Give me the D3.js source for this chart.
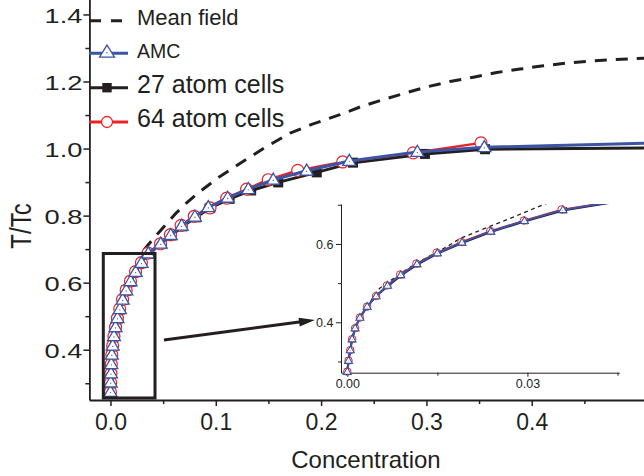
<!DOCTYPE html>
<html><head><meta charset="utf-8">
<script src="https://cdn.jsdelivr.net/npm/d3@7"></script>
<style>
html,body{margin:0;padding:0;background:#fff;}
svg{display:block;}
text{font-family:"Liberation Sans",Arial,Helvetica,sans-serif;fill:#231f20;}
</style></head><body>
<svg id="chart" width="644" height="476"></svg>
<script>
// ---- data: concentration vs reduced temperature T/Tc ----
const amcConc = [0.0000,0.0002,0.0005,0.0008,0.0013,0.0021,0.0033,0.0048,0.0067,0.0089,0.0116,0.0150,0.0191,0.0239,0.0295,0.0359,
  0.0477,0.0572,0.0676,0.0802,0.0929,0.1113,0.1309,0.1546,0.1863,0.2268,0.2914,0.3550,0.5200];
const amcT = [0.274,0.302,0.329,0.357,0.385,0.412,0.440,0.467,0.494,0.521,0.549,0.577,0.604,0.632,0.659,0.687,
  0.716,0.742,0.770,0.797,0.825,0.853,0.879,0.907,0.934,0.963,0.990,1.004,1.017];

const cell27Conc = [0.0000,0.0002,0.0005,0.0008,0.0013,0.0021,0.0033,0.0048,0.0068,0.0090,0.0117,0.0151,0.0192,0.0240,0.0296,0.0361,
  0.0482,0.0580,0.0684,0.0812,0.0942,0.1131,0.1336,0.1593,0.1959,0.2303,0.2986,0.3557,0.5200];
const cell27T = [0.274,0.302,0.329,0.357,0.385,0.412,0.440,0.467,0.493,0.520,0.548,0.576,0.603,0.631,0.658,0.686,
  0.716,0.741,0.768,0.795,0.822,0.850,0.875,0.899,0.929,0.958,0.984,0.998,1.002];

const cell64Conc = [0.0000,0.0002,0.0005,0.0008,0.0013,0.0021,0.0033,0.0048,0.0066,0.0088,0.0115,0.0149,0.0190,0.0238,0.0294,0.0357,
  0.0475,0.0569,0.0671,0.0796,0.0945,0.1104,0.1293,0.1498,0.1778,0.2205,0.2875,0.3518];
const cell64T = [0.274,0.302,0.329,0.357,0.385,0.412,0.440,0.467,0.494,0.522,0.550,0.578,0.605,0.633,0.660,0.688,
  0.716,0.743,0.771,0.798,0.823,0.852,0.879,0.907,0.935,0.960,0.987,1.017];

const meanConc = [0.0000,0.0002,0.0008,0.0021,0.0034,0.0054,0.0093,0.0116,0.0166,0.0188,0.0215,0.0271,0.0329,0.0451,0.0628,0.0723,
  0.0850,0.1040,0.1262,0.1483,0.1705,0.1911,0.2179,0.2386,0.2591,0.2815,0.3018,0.3224,0.3446,0.3667,0.3889,0.4110,0.4332,0.4554,0.4760,0.4965,0.5200];
const meanT = [0.274,0.303,0.358,0.414,0.443,0.487,0.529,0.552,0.593,0.614,0.631,0.665,0.702,0.747,0.809,0.838,
  0.872,0.917,0.962,1.006,1.046,1.072,1.101,1.126,1.146,1.167,1.185,1.200,1.213,1.227,1.237,1.247,1.255,1.261,1.265,1.268,1.271];

// ---- ticks and labels ----
const xTicksMain = [0, 0.1, 0.2, 0.3, 0.4];
const xMinorMain = [0.05, 0.15, 0.25, 0.35, 0.45];
const yTicksMain = [0.4, 0.6, 0.8, 1.0, 1.2, 1.4];
const yMinorMain = [0.3, 0.5, 0.7, 0.9, 1.1, 1.3];
const xTicksInset = [0, 0.03];
const xMinorInset = [0.015, 0.045];
const yTicksInset = [0.4, 0.6];
const yMinorInset = [0.3, 0.5, 0.7];
const legendLabels = ["Mean field", "AMC", "27 atom cells", "64 atom cells"];
const xTitle = "Concentration";
const yTitle = "T/Tc";

// zoomed window (data units) and the arrow pointing to the inset
const zoomBox = {c0: -0.0068, c1: 0.0423, t0: 0.256, t1: 0.687};
const arrowFrom = {c: 0.0508, t: 0.429};
const arrowTo = {c: 0.1942, t: 0.4886};

// ---- styles ----
const INK = "#231f20", BLUE = "#3b54a4", RED = "#ec2227";

const svg = d3.select("#chart");

// main scales
const x = d3.scaleLinear().domain([-0.02, 0.52]).range([89.4, 658.1]);
const y = d3.scaleLinear().domain([0.25, 1.45]).range([400, -2.3]);
// inset scales
const xi = d3.scaleLinear().domain([-0.00105, 0.0453]).range([341, 619.3]);
const yi = d3.scaleLinear().domain([0.2713, 0.702]).range([372.7, 204]);

const triPath = (w, h) => `M0,${-h * 0.6}L${w / 2},${h * 0.4}L${-w / 2},${h * 0.4}Z`;

function drawSeries(g, sx, sy, conc, temp, o) {
  const pts = conc.map((c, i) => [c, temp[i]]);
  g.append("path")
    .attr("d", d3.line().x(d => sx(d[0])).y(d => sy(d[1]))(pts))
    .attr("fill", "none").attr("stroke", o.color).attr("stroke-width", o.lw)
    .attr("stroke-linejoin", "round")
    .attr("stroke-dasharray", o.dash || null)
    .attr("clip-path", o.clip || null);
  if (!o.marker) return;
  const shown = pts.filter(o.keep || (() => true));
  const m = g.selectAll(null).data(shown).enter().append("g")
    .attr("transform", d => `translate(${sx(d[0])},${sy(d[1])})`);
  if (o.marker === "tri") {
    m.append("path").attr("d", triPath(o.size, o.size * 0.85))
      .attr("fill", "#fff").attr("stroke", o.color).attr("stroke-width", o.mlw);
    m.append("circle").attr("cx", 0).attr("cy", o.size * 0.05).attr("r", o.size * 0.05)
      .attr("fill", o.color);
  } else if (o.marker === "circle") {
    m.append("circle").attr("r", o.size / 2).attr("fill", "#fff")
      .attr("stroke", o.color).attr("stroke-width", o.mlw);
  } else if (o.marker === "square") {
    m.append("rect").attr("x", -o.size / 2).attr("y", -o.size / 2)
      .attr("width", o.size).attr("height", o.size).attr("fill", o.color);
  }
}

// ---------- main axes ----------
const gx = svg.append("g").attr("transform", `translate(0,${y(0.25)})`);
gx.call(d3.axisBottom(x).tickValues(xTicksMain).tickSize(6).tickSizeOuter(0).tickFormat(d3.format(".1f")));
gx.append("g").call(d3.axisBottom(x).tickValues(xMinorMain).tickSize(4).tickFormat(""))
  .select(".domain").remove();
gx.selectAll(".domain").attr("stroke", INK).attr("stroke-width", 1.8);
gx.selectAll(".tick line").attr("stroke", INK).attr("stroke-width", 1.5);
gx.selectAll(".tick text").attr("y", 30).attr("dy", 0).attr("font-size", 23)
  .attr("fill", INK).style("font-family", '"Liberation Sans",Arial,sans-serif');

const gy = svg.append("g").attr("transform", `translate(${x(-0.02)},0)`);
gy.call(d3.axisLeft(y).tickValues(yTicksMain).tickSize(6).tickSizeOuter(0).tickFormat(d3.format(".1f")));
gy.append("g").call(d3.axisLeft(y).tickValues(yMinorMain).tickSize(4).tickFormat(""))
  .select(".domain").remove();
gy.selectAll(".domain").attr("stroke", INK).attr("stroke-width", 1.8);
gy.selectAll(".tick line").attr("stroke", INK).attr("stroke-width", 1.5);
gy.selectAll(".tick text").attr("x", -7 / 1.3).attr("dy", "0.36em").attr("font-size", 21)
  .attr("transform", "scale(1.3,1)")
  .attr("fill", INK).style("font-family", '"Liberation Sans",Arial,sans-serif');

svg.append("text").attr("x", 366).attr("y", 468).attr("text-anchor", "middle")
  .attr("font-size", 24).text(xTitle);
svg.append("text").attr("text-anchor", "middle").attr("font-size", 24)
  .attr("transform", "translate(31,226) rotate(-90) scale(1,1.22)").text(yTitle);

// ---------- main curves ----------
const gm = svg.append("g");
drawSeries(gm, x, y, meanConc, meanT, {color: INK, lw: 3, dash: "12,9"});
drawSeries(gm, x, y, cell27Conc, cell27T, {color: INK, lw: 3, marker: "square", size: 10, keep: d => d[0] < 0.5});
drawSeries(gm, x, y, cell64Conc, cell64T, {color: RED, lw: 2.5, marker: "circle", size: 12, mlw: 1.2});
drawSeries(gm, x, y, amcConc, amcT, {color: BLUE, lw: 3, marker: "tri", size: 13, mlw: 1.3,
  keep: d => d[0] < 0.5});

// zoom box and arrow
svg.append("rect")
  .attr("x", x(zoomBox.c0)).attr("y", y(zoomBox.t1))
  .attr("width", x(zoomBox.c1) - x(zoomBox.c0)).attr("height", y(zoomBox.t0) - y(zoomBox.t1))
  .attr("fill", "none").attr("stroke", INK).attr("stroke-width", 3);

(function arrow() {
  const x0 = x(arrowFrom.c), y0 = y(arrowFrom.t), x1 = x(arrowTo.c), y1 = y(arrowTo.t);
  const a = Math.atan2(y1 - y0, x1 - x0), L = 16, Wd = 4.5;
  const bx = x1 - L * Math.cos(a), by = y1 - L * Math.sin(a);
  svg.append("line").attr("x1", x0).attr("y1", y0).attr("x2", bx + 2 * Math.cos(a)).attr("y2", by + 2 * Math.sin(a))
    .attr("stroke", INK).attr("stroke-width", 3);
  const px = -Math.sin(a) * Wd, py = Math.cos(a) * Wd;
  svg.append("path").attr("d", `M${x1},${y1}L${bx + px},${by + py}L${bx},${by}L${bx - px},${by - py}Z`)
    .attr("fill", INK);
})();

// ---------- inset ----------
const defs = svg.append("defs");
defs.append("clipPath").attr("id", "insetClip").append("rect")
  .attr("x", 336).attr("y", yi(0.702)).attr("width", xi(0.0453) - 336).attr("height", 380 - yi(0.702));

const ix = svg.append("g").attr("transform", `translate(0,${yi(0.2713)})`);
ix.call(d3.axisBottom(xi).tickValues(xTicksInset).tickSize(4).tickSizeOuter(0).tickFormat(d3.format(".2f")));
ix.append("g").call(d3.axisBottom(xi).tickValues(xMinorInset).tickSize(3).tickFormat("")).select(".domain").remove();
ix.selectAll(".domain").attr("stroke", INK).attr("stroke-width", 1);
ix.selectAll(".tick line").attr("stroke", INK).attr("stroke-width", 1);
ix.selectAll(".tick text").attr("y", 15).attr("dy", 0).attr("font-size", 12.5)
  .attr("fill", INK).style("font-family", '"Liberation Sans",Arial,sans-serif');

const iy = svg.append("g").attr("transform", `translate(${xi(-0.00105)},0)`);
iy.call(d3.axisLeft(yi).tickValues(yTicksInset).tickSize(5).tickSizeOuter(0).tickFormat(d3.format(".1f")));
iy.append("g").call(d3.axisLeft(yi).tickValues(yMinorInset).tickSize(3).tickFormat("")).select(".domain").remove();
iy.selectAll(".domain").attr("stroke", INK).attr("stroke-width", 1);
iy.selectAll(".tick line").attr("stroke", INK).attr("stroke-width", 1);
iy.selectAll(".tick text").attr("x", -7.5).attr("dy", "0.36em").attr("font-size", 12.5)
  .attr("fill", INK).style("font-family", '"Liberation Sans",Arial,sans-serif');

const gi = svg.append("g");
const inWin = d => d[0] <= 0.0453 && d[1] <= 0.702;
drawSeries(gi, xi, yi, meanConc, meanT, {color: INK, lw: 1.3, dash: "4,3.5", clip: "url(#insetClip)"});
drawSeries(gi, xi, yi, cell27Conc, cell27T, {color: INK, lw: 2, marker: "square", size: 6, clip: "url(#insetClip)", keep: inWin});
drawSeries(gi, xi, yi, cell64Conc, cell64T, {color: RED, lw: 1.5, marker: "circle", size: 7.5, mlw: 1, clip: "url(#insetClip)", keep: inWin});
drawSeries(gi, xi, yi, amcConc, amcT, {color: BLUE, lw: 2, marker: "tri", size: 8, mlw: 1.1, clip: "url(#insetClip)", keep: inWin});

// ---------- legend ----------
const legend = svg.append("g");
const lx0 = 89, lx1 = 128, mx = 107, tx = 137;
const rows = [
  {y: 20.7, base: 25, fs: 22, color: INK, dash: "12,10", lw: 3},
  {y: 53.3, base: 57.7, fs: 19.5, color: BLUE, lw: 3, marker: "tri"},
  {y: 87.7, base: 92.7, fs: 25, color: INK, lw: 3, marker: "square"},
  {y: 122, base: 126.7, fs: 25, color: RED, lw: 3, marker: "circle"}
];
rows.forEach((r, i) => {
  legend.append("line").attr("x1", lx0).attr("x2", r.dash ? 122 : lx1).attr("y1", r.y).attr("y2", r.y)
    .attr("stroke", r.color).attr("stroke-width", r.lw).attr("stroke-dasharray", r.dash || null);
  if (r.marker === "tri") {
    legend.append("path").attr("transform", `translate(${mx},${r.y - 1})`).attr("d", triPath(15, 12))
      .attr("fill", "#fff").attr("stroke", r.color).attr("stroke-width", 1.3);
    legend.append("circle").attr("cx", mx).attr("cy", r.y - 0.5).attr("r", 0.7).attr("fill", r.color);
  } else if (r.marker === "square") {
    legend.append("rect").attr("x", mx - 4.7).attr("y", r.y - 4.7).attr("width", 9.4).attr("height", 9.4).attr("fill", r.color);
  } else if (r.marker === "circle") {
    legend.append("circle").attr("cx", mx).attr("cy", r.y).attr("r", 5.5).attr("fill", "#fff")
      .attr("stroke", r.color).attr("stroke-width", 1.3);
  }
  legend.append("text").attr("x", tx).attr("y", r.base).attr("font-size", r.fs).text(legendLabels[i]);
});
</script>
</body></html>
